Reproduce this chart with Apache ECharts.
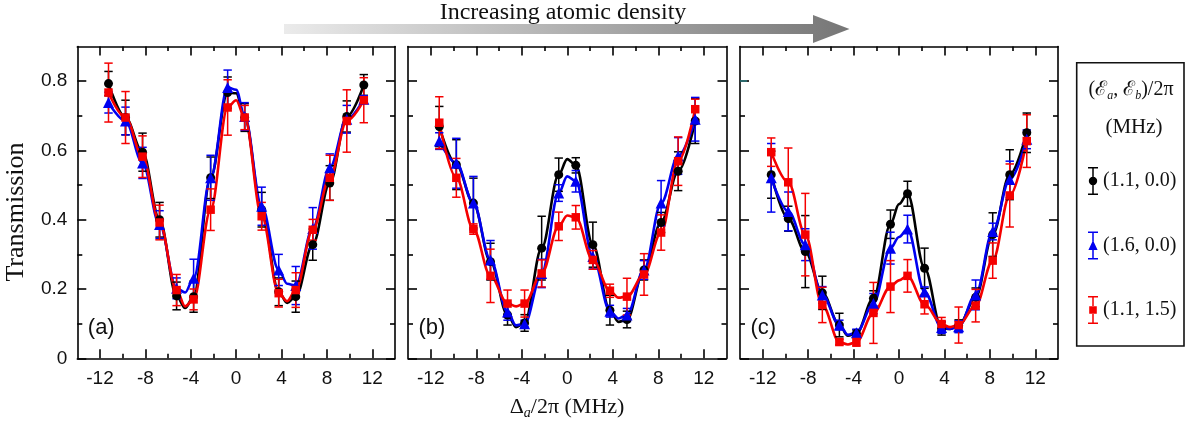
<!DOCTYPE html>
<html>
<head>
<meta charset="utf-8">
<script src="https://cdn.jsdelivr.net/npm/echarts@6/dist/echarts.min.js"></script>
<style>
html,body{margin:0;padding:0;background:#fff;}
#chart{width:1197px;height:428px;}
</style>
</head>
<body>
<div id="chart"></div>
<script>
// ---------------- data ----------------
const detuning = [-11.25, -9.75, -8.25, -6.75, -5.25, -3.75, -2.25, -0.75, 0.75, 2.25, 3.75, 5.25, 6.75, 8.25, 9.75, 11.25];

const seriesNames = ['(1.1, 0.0)', '(1.6, 0.0)', '(1.1, 1.5)'];
const panelLabels = ['(a)', '(b)', '(c)'];

const majorX = [-12, -8, -4, 0, 4, 8, 12];
const minorX = [-10, -6, -2, 2, 6, 10];
const majorY = [0, 0.2, 0.4, 0.6, 0.8];
const minorY = [0.1, 0.3, 0.5, 0.7];

// panel (a)
const aBlack = [0.793, 0.695, 0.595, 0.400, 0.180, 0.178, 0.521, 0.767, 0.695, 0.429, 0.192, 0.178, 0.328, 0.506, 0.698, 0.789];
const aBlue  = [0.738, 0.685, 0.564, 0.386, 0.202, 0.231, 0.521, 0.782, 0.698, 0.439, 0.255, 0.210, 0.375, 0.550, 0.690, 0.748];
const aRed   = [0.767, 0.695, 0.582, 0.392, 0.197, 0.170, 0.429, 0.724, 0.695, 0.410, 0.188, 0.197, 0.371, 0.521, 0.685, 0.745];
const aBlackErr = [0.035, 0.050, 0.055, 0.050, 0.040, 0.045, 0.060, 0.045, 0.040, 0.050, 0.040, 0.045, 0.045, 0.050, 0.045, 0.030];
const aBlueErr  = [0.030, 0.040, 0.045, 0.040, 0.030, 0.055, 0.065, 0.050, 0.040, 0.055, 0.045, 0.055, 0.060, 0.040, 0.040, 0.010];
const aRedErr   = [0.085, 0.075, 0.060, 0.050, 0.045, 0.030, 0.060, 0.080, 0.035, 0.040, 0.040, 0.050, 0.030, 0.065, 0.090, 0.065];
const aBlackFit = [[-4.5, 0.145], [0, 0.765], [4.5, 0.160]];
const aBlueFit  = [[-4.5, 0.190], [0, 0.775], [4.5, 0.215]];
const aRedFit   = [[-4.5, 0.150], [0, 0.745], [4.5, 0.165]];

// panel (b)
const bBlack = [0.669, 0.559, 0.448, 0.279, 0.125, 0.102, 0.318, 0.530, 0.557, 0.328, 0.139, 0.112, 0.255, 0.392, 0.540, 0.685];
const bBlue  = [0.627, 0.563, 0.448, 0.284, 0.134, 0.100, 0.245, 0.477, 0.511, 0.294, 0.136, 0.125, 0.255, 0.448, 0.584, 0.690];
const bRed   = [0.680, 0.521, 0.373, 0.238, 0.158, 0.158, 0.245, 0.381, 0.407, 0.284, 0.195, 0.178, 0.242, 0.363, 0.569, 0.719];
const bBlackErr = [0.058, 0.072, 0.072, 0.053, 0.029, 0.024, 0.092, 0.048, 0.022, 0.065, 0.043, 0.024, 0.029, 0.029, 0.056, 0.065];
const bBlueErr  = [0.024, 0.072, 0.077, 0.056, 0.024, 0.010, 0.041, 0.024, 0.031, 0.036, 0.017, 0.019, 0.027, 0.065, 0.053, 0.063];
const bRedErr   = [0.075, 0.056, 0.015, 0.077, 0.039, 0.039, 0.039, 0.041, 0.034, 0.027, 0.019, 0.053, 0.060, 0.051, 0.070, 0.029];
const bBlackFit = [[-4.5, 0.090], [0, 0.575], [4.5, 0.105]];
const bBlueFit  = [[-4.5, 0.095], [0, 0.525], [4.5, 0.115]];
const bRedFit   = [[-4.5, 0.150], [0, 0.412], [4.5, 0.175]];

// panel (c)
const cBlack = [0.530, 0.403, 0.308, 0.189, 0.096, 0.072, 0.173, 0.387, 0.475, 0.260, 0.086, 0.094, 0.176, 0.357, 0.530, 0.651];
const cBlue  = [0.521, 0.424, 0.328, 0.183, 0.096, 0.074, 0.158, 0.318, 0.373, 0.192, 0.089, 0.091, 0.183, 0.366, 0.516, 0.632];
const cRed   = [0.595, 0.508, 0.357, 0.154, 0.047, 0.047, 0.131, 0.207, 0.238, 0.156, 0.099, 0.096, 0.152, 0.282, 0.470, 0.627];
const cBlackErr = [0.068, 0.036, 0.104, 0.048, 0.034, 0.010, 0.022, 0.041, 0.036, 0.058, 0.019, 0.017, 0.027, 0.063, 0.072, 0.057];
const cBlueErr  = [0.099, 0.056, 0.046, 0.024, 0.014, 0.010, 0.029, 0.046, 0.040, 0.014, 0.017, 0.017, 0.043, 0.024, 0.053, 0.027];
const cRedErr   = [0.041, 0.099, 0.119, 0.051, 0.008, 0.012, 0.088, 0.075, 0.047, 0.028, 0.019, 0.052, 0.047, 0.051, 0.091, 0.076];
const cBlackFit = [[-4.5, 0.065], [0, 0.445], [4.5, 0.085]];
const cBlueFit  = [[-4.5, 0.068], [0, 0.350], [4.5, 0.085]];
const cRedFit   = [[-4.5, 0.040], [0, 0.225], [4.5, 0.090]];

// ---------------- assembly ----------------
const panels = [
  { vals: [aBlack, aBlue, aRed], errs: [aBlackErr, aBlueErr, aRedErr], fits: [aBlackFit, aBlueFit, aRedFit] },
  { vals: [bBlack, bBlue, bRed], errs: [bBlackErr, bBlueErr, bRedErr], fits: [bBlackFit, bBlueFit, bRedFit] },
  { vals: [cBlack, cBlue, cRed], errs: [cBlackErr, cBlueErr, cRedErr], fits: [cBlackFit, cBlueFit, cRedFit] }
];
const colors = ['#000000', '#0000f0', '#f50000'];
const symbols = ['circle', 'triangle', 'rect'];
const symbolSizes = [9, 11, 8.5];

const gridLefts = [77.3, 408, 740];
const gridWidths = [317.7, 318.5, 318];
const grids = gridLefts.map((l, i) => ({ left: l, top: 46.5, width: gridWidths[i], height: 311.8 }));

const lineStyleAx = { color: '#000', width: 1.6 };
const xAxes = [];
const yAxes = [];
grids.forEach((g, gi) => {
  const cx = { type: 'value', gridIndex: gi, min: -14, max: 14, splitLine: { show: false } };
  xAxes.push(Object.assign({}, cx, {
    position: 'bottom',
    axisLine: { show: true, onZero: false, lineStyle: lineStyleAx },
    axisTick: { show: true, inside: true, length: 9, customValues: majorX, lineStyle: lineStyleAx },
    axisLabel: { show: true, customValues: majorX, margin: 11, fontFamily: 'Liberation Sans', fontSize: 19, color: '#111',
      formatter: v => String(v) }
  }));
  xAxes.push(Object.assign({}, cx, {
    position: 'bottom',
    axisLine: { show: false, onZero: false },
    axisTick: { show: true, inside: true, length: 4.5, customValues: minorX, lineStyle: lineStyleAx },
    axisLabel: { show: false }
  }));
  xAxes.push(Object.assign({}, cx, {
    position: 'top',
    axisLine: { show: true, onZero: false, lineStyle: lineStyleAx },
    axisTick: { show: true, inside: true, length: 9, customValues: majorX, lineStyle: lineStyleAx },
    axisLabel: { show: false }
  }));
  xAxes.push(Object.assign({}, cx, {
    position: 'top',
    axisLine: { show: false, onZero: false },
    axisTick: { show: true, inside: true, length: 4.5, customValues: minorX, lineStyle: lineStyleAx },
    axisLabel: { show: false }
  }));

  const cy = { type: 'value', gridIndex: gi, min: 0, max: 0.9, splitLine: { show: false } };
  yAxes.push(Object.assign({}, cy, {
    position: 'left',
    axisLine: { show: true, onZero: false, lineStyle: lineStyleAx },
    axisTick: { show: true, inside: true, length: 9, customValues: majorY, lineStyle: lineStyleAx },
    axisLabel: { show: gi === 0, customValues: majorY, margin: 10, fontFamily: 'Liberation Sans', fontSize: 19, color: '#111',
      formatter: v => (v === 0 ? '0' : v.toFixed(1)) }
  }));
  yAxes.push(Object.assign({}, cy, {
    position: 'left',
    axisLine: { show: false, onZero: false },
    axisTick: { show: true, inside: true, length: 5, customValues: minorY, lineStyle: lineStyleAx },
    axisLabel: { show: false }
  }));
  yAxes.push(Object.assign({}, cy, {
    position: 'right',
    axisLine: { show: true, onZero: false, lineStyle: lineStyleAx },
    axisTick: { show: true, inside: true, length: 9, customValues: majorY, lineStyle: lineStyleAx },
    axisLabel: { show: false }
  }));
  yAxes.push(Object.assign({}, cy, {
    position: 'right',
    axisLine: { show: false, onZero: false },
    axisTick: { show: true, inside: true, length: 5, customValues: minorY, lineStyle: lineStyleAx },
    axisLabel: { show: false }
  }));
});
// small teal tick seen on the left frame of panel (c)
yAxes.push({
  type: 'value', gridIndex: 2, min: 0, max: 0.9, position: 'left', splitLine: { show: false },
  axisLine: { show: false, onZero: false },
  axisTick: { show: true, inside: true, length: 7, customValues: [0.8], lineStyle: { color: '#2b7c80', width: 1.5 } },
  axisLabel: { show: false }
});

function errRender(params, api) {
  const x = api.value(0), lo = api.value(1), hi = api.value(2);
  const p1 = api.coord([x, lo]);
  const p2 = api.coord([x, hi]);
  const hw = 4.2;
  const style = { stroke: api.visual('color'), lineWidth: 1.5, fill: null };
  return {
    type: 'group',
    children: [
      { type: 'line', shape: { x1: p1[0], y1: p1[1], x2: p2[0], y2: p2[1] }, style: style },
      { type: 'line', shape: { x1: p1[0] - hw, y1: p1[1], x2: p1[0] + hw, y2: p1[1] }, style: style },
      { type: 'line', shape: { x1: p2[0] - hw, y1: p2[1], x2: p2[0] + hw, y2: p2[1] }, style: style }
    ]
  };
}

const series = [];
panels.forEach((p, gi) => {
  for (let s = 0; s < 3; s++) {
    const pts = detuning.map((x, i) => [x, p.vals[s][i]]);
    const fitPts = pts.concat(p.fits[s]).sort((u, v) => u[0] - v[0]);
    series.push({
      type: 'line', name: 'fit' + gi + s, xAxisIndex: gi * 4, yAxisIndex: gi * 4,
      data: fitPts, smooth: 0.35, smoothMonotone: 'x', showSymbol: false, symbol: 'none',
      lineStyle: { color: colors[s], width: 2.6 }, itemStyle: { color: colors[s] },
      silent: true, animation: false, z: 2
    });
    series.push({
      type: 'custom', name: 'err' + gi + s, xAxisIndex: gi * 4, yAxisIndex: gi * 4,
      renderItem: errRender, itemStyle: { color: colors[s] },
      encode: { x: 0, y: [1, 2] },
      data: detuning.map((x, i) => [x, p.vals[s][i] - p.errs[s][i], p.vals[s][i] + p.errs[s][i]]),
      silent: true, animation: false, z: 3
    });
    series.push({
      type: 'scatter', name: seriesNames[s], xAxisIndex: gi * 4, yAxisIndex: gi * 4,
      data: pts, symbol: symbols[s], symbolSize: symbolSizes[s],
      itemStyle: { color: colors[s], opacity: 1 }, silent: true, animation: false, z: 4
    });
  }
});

// legend icons: marker with error bar
const stems = 'M0 0H10V1.5H5.75V10H4.25V1.5H0Z M4.25 18H5.75V26.5H10V28H0V26.5H4.25Z ';
const legendIcons = [
  'path://' + stems + 'M5 9.8A4.2 4.2 0 1 1 5 18.2A4.2 4.2 0 1 1 5 9.8Z',
  'path://' + stems + 'M5 8.8L9.6 18.6H0.4Z',
  'path://' + stems + 'M1.2 10.2H8.8V17.8H1.2Z'
];

const serif = 'Liberation Serif';
const option = {
  backgroundColor: '#ffffff',
  animation: false,
  grid: grids,
  xAxis: xAxes,
  yAxis: yAxes,
  series: series,
  legend: {
    orient: 'vertical', left: 1083, top: 162,
    itemWidth: 10, itemHeight: 28, itemGap: 36.5,
    selectedMode: false,
    data: seriesNames.map((n, i) => ({ name: n, icon: legendIcons[i] })),
    textStyle: { fontFamily: serif, fontSize: 20, color: '#111', padding: [0, 0, 0, 0] }
  },
  graphic: [
    { type: 'polygon', silent: true,
      shape: { points: [[284, 24], [813, 24], [813, 15], [849.5, 29], [813, 43], [813, 34], [284, 34]] },
      style: { fill: { type: 'linear', x: 0, y: 0, x2: 1, y2: 0,
        colorStops: [{ offset: 0, color: '#ebebeb' }, { offset: 1, color: '#767676' }] } } },
    { type: 'text', silent: true, x: 563, y: 13,
      style: { text: 'Increasing atomic density', fontFamily: serif, fontSize: 24, fill: '#111',
        align: 'center', verticalAlign: 'middle' } },
    { type: 'text', silent: true, x: 16, y: 212, rotation: Math.PI / 2,
      style: { text: 'Transmission', fontFamily: serif, fontSize: 26, fill: '#111',
        align: 'center', verticalAlign: 'middle' } },
    { type: 'text', silent: true, x: 567, y: 407,
      style: { text: '{n|Δ}{s|a}{n|/2π (MHz)}', align: 'center', verticalAlign: 'middle', fill: '#111',
        rich: {
          n: { fontFamily: serif, fontSize: 22, lineHeight: 26, fill: '#111' },
          s: { fontFamily: serif, fontStyle: 'italic', fontSize: 14, lineHeight: 12, verticalAlign: 'bottom', fill: '#111' }
        } } },
    { type: 'rect', silent: true, shape: { x: 1076.7, y: 62.7, width: 107.3, height: 283.3 },
      style: { fill: 'none', stroke: '#111', lineWidth: 1.6 } },
    { type: 'text', silent: true, x: 1131, y: 90,
      style: { text: '{n|(}{e|ℰ}{s|a}{n|, }{e|ℰ}{s|b}{n|)/2π}', align: 'center', verticalAlign: 'middle', fill: '#111',
        rich: {
          n: { fontFamily: serif, fontSize: 20, lineHeight: 24, fill: '#111' },
          e: { fontFamily: serif, fontSize: 20, lineHeight: 24, fill: '#111' },
          s: { fontFamily: serif, fontStyle: 'italic', fontSize: 12, lineHeight: 11, verticalAlign: 'bottom', fill: '#111' }
        } } },
    { type: 'text', silent: true, x: 1134, y: 127,
      style: { text: '(MHz)', fontFamily: serif, fontSize: 21, fill: '#111', align: 'center', verticalAlign: 'middle' } },
    ...panelLabels.map((t, i) => ({
      type: 'text', silent: true, x: gridLefts[i] + 10.5, y: 328,
      style: { text: t, fontFamily: 'Liberation Sans', fontSize: 22, fill: '#111', align: 'left', verticalAlign: 'middle' }
    }))
  ]
};

const chart = echarts.init(document.getElementById('chart'), null, { renderer: 'canvas' });
chart.setOption(option);
</script>
</body>
</html>
